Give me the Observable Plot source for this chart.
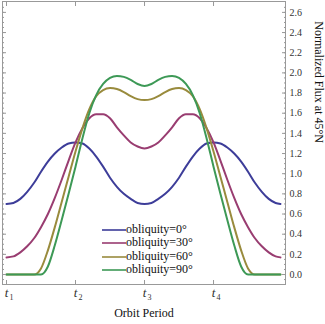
<!DOCTYPE html>
<html><head><meta charset="utf-8">
<script src="https://cdn.jsdelivr.net/npm/d3@7"></script>
<script src="https://cdn.jsdelivr.net/npm/@observablehq/plot@0.6"></script>
<style>
html,body{margin:0;padding:0;background:#fff;}
#wrap{position:relative;width:325px;height:324px;font-family:"Liberation Serif",serif;}
#wrap svg{display:block;}
.leg{position:absolute;left:102px;top:223px;font-size:12px;color:#111;}
.row{display:flex;align-items:center;height:13.4px;line-height:13.4px;white-space:nowrap;}
.sw{width:24px;height:13.4px;display:block;}
</style></head><body><div id="wrap"></div>
<script>
// orbit phase (t1 = 0, t2 = 1, t3 = 2, t4 = 3)
const timeT = [0,0.1,0.2,0.3,0.4,0.5,0.6,0.7,0.8,0.9,1.0,1.1,1.2,1.3,1.4,1.5,1.6,1.7,1.8,1.9,2.0,
               2.1,2.2,2.3,2.4,2.5,2.6,2.7,2.8,2.9,3.0,3.1,3.2,3.3,3.4,3.5,3.6,3.7,3.8,3.9,3.97];
const obliquities = ["obliquity=0°","obliquity=30°","obliquity=60°","obliquity=90°"];
const seriesColors = ["#3d3d99","#993d71","#998b3d","#3d9956"];
const flux0 = [0.70,0.71,0.75,0.82,0.91,1.02,1.12,1.20,1.26,1.30,1.31,1.30,1.25,1.17,1.07,0.96,0.87,0.80,0.75,0.71,0.70,
               0.71,0.75,0.80,0.87,0.96,1.07,1.17,1.25,1.30,1.31,1.30,1.26,1.20,1.12,1.02,0.91,0.82,0.75,0.71,0.70];
const flux30 = [0.17,0.18,0.22,0.28,0.36,0.47,0.60,0.76,0.94,1.13,1.31,1.45,1.55,1.59,1.59,1.55,1.46,1.38,1.31,1.27,1.25,
                1.27,1.31,1.38,1.46,1.55,1.59,1.59,1.55,1.45,1.31,1.13,0.94,0.76,0.60,0.47,0.36,0.28,0.22,0.18,0.17];
const flux60 = [0,0,0,0,0,0.06,0.24,0.47,0.72,0.97,1.22,1.45,1.64,1.77,1.83,1.85,1.84,1.81,1.77,1.74,1.73,
                1.74,1.77,1.81,1.84,1.85,1.83,1.77,1.64,1.45,1.22,0.97,0.72,0.47,0.24,0.06,0,0,0,0,0];
const flux90 = [0,0,0,0,0,0,0.08,0.29,0.54,0.80,1.07,1.35,1.60,1.78,1.89,1.95,1.97,1.96,1.93,1.89,1.87,
                1.89,1.93,1.96,1.97,1.95,1.89,1.78,1.60,1.35,1.07,0.80,0.54,0.29,0.08,0,0,0,0,0,0];
const xTickValues = [0,1,2,3];
const xTickSubs = ["1","2","3","4"];
const yTickValues = [0,0.2,0.4,0.6,0.8,1.0,1.2,1.4,1.6,1.8,2.0,2.2,2.4,2.6];
const yMinorTicks = d3.range(-0.05, 2.70, 0.05);

const series = [flux0, flux30, flux60, flux90];
const rows = [];
series.forEach((s, i) => timeT.forEach((t, j) => rows.push({t, v: s[j], k: obliquities[i]})));

const frameGray = "#999";
const plot = Plot.plot({
  width: 325, height: 324,
  marginLeft: 2, marginRight: 40, marginTop: 1, marginBottom: 40,
  style: {fontFamily: "'Liberation Serif', serif", background: "white", color: "#333"},
  x: {domain: [-0.058, 4.043]},
  y: {domain: [-0.099, 2.708]},
  color: {domain: obliquities, range: seriesColors},
  marks: [
    Plot.frame({stroke: frameGray}),
    Plot.line(rows, {x: "t", y: "v", z: "k", stroke: "k", strokeWidth: 2, curve: "monotone-x"}),
    Plot.axisY({anchor: "right", ticks: yTickValues, tickSize: -4, tickPadding: 8, tickFormat: d3.format(".1f"), stroke: frameGray, fill: "#333", fontSize: 10, label: null}),
    Plot.axisY({anchor: "right", ticks: yMinorTicks, tickSize: -2, tickFormat: () => "", stroke: frameGray, label: null}),
    Plot.axisY({anchor: "left", ticks: yTickValues, tickSize: -4, tickFormat: () => "", stroke: frameGray, label: null}),
    Plot.axisY({anchor: "left", ticks: yMinorTicks, tickSize: -2, tickFormat: () => "", stroke: frameGray, label: null}),
    Plot.axisX({anchor: "bottom", ticks: xTickValues, tickSize: -4, tickFormat: () => "", stroke: frameGray, label: null}),
    Plot.axisX({anchor: "top", ticks: xTickValues, tickSize: -4, tickFormat: () => "", stroke: frameGray, label: null}),
    Plot.text(xTickValues, {x: d => d, frameAnchor: "bottom", dy: 12, text: () => "t", fontStyle: "italic", fontSize: 13, fill: "#333"}),
    Plot.text(xTickValues, {x: d => d, frameAnchor: "bottom", dy: 15, dx: 5, text: (d, i) => xTickSubs[i], fontSize: 8, fill: "#333"}),
    Plot.text(["Orbit Period"], {frameAnchor: "bottom", dy: 32, fontSize: 12, fill: "#111"}),
    Plot.text(["Normalized Flux at 45°N"], {frameAnchor: "right", dx: 33, rotate: 90, fontSize: 12, fill: "#111"})
  ]
});
const wrap = document.getElementById("wrap");
wrap.appendChild(plot);
const leg = document.createElement("div");
leg.className = "leg";
const svgNS = "http://www.w3.org/2000/svg";
obliquities.forEach((name, i) => {
  const row = document.createElement("div");
  row.className = "row";
  const sw = document.createElementNS(svgNS, "svg");
  sw.setAttribute("class", "sw");
  sw.setAttribute("width", "24");
  sw.setAttribute("height", "13.4");
  const ln = document.createElementNS(svgNS, "line");
  ln.setAttribute("x1", "0"); ln.setAttribute("x2", "24");
  ln.setAttribute("y1", "7"); ln.setAttribute("y2", "7");
  ln.setAttribute("stroke", seriesColors[i]);
  ln.setAttribute("stroke-width", "1.6");
  sw.appendChild(ln);
  const tx = document.createElement("span");
  tx.textContent = name;
  row.appendChild(sw); row.appendChild(tx);
  leg.appendChild(row);
});
wrap.appendChild(leg);
</script></body></html>
